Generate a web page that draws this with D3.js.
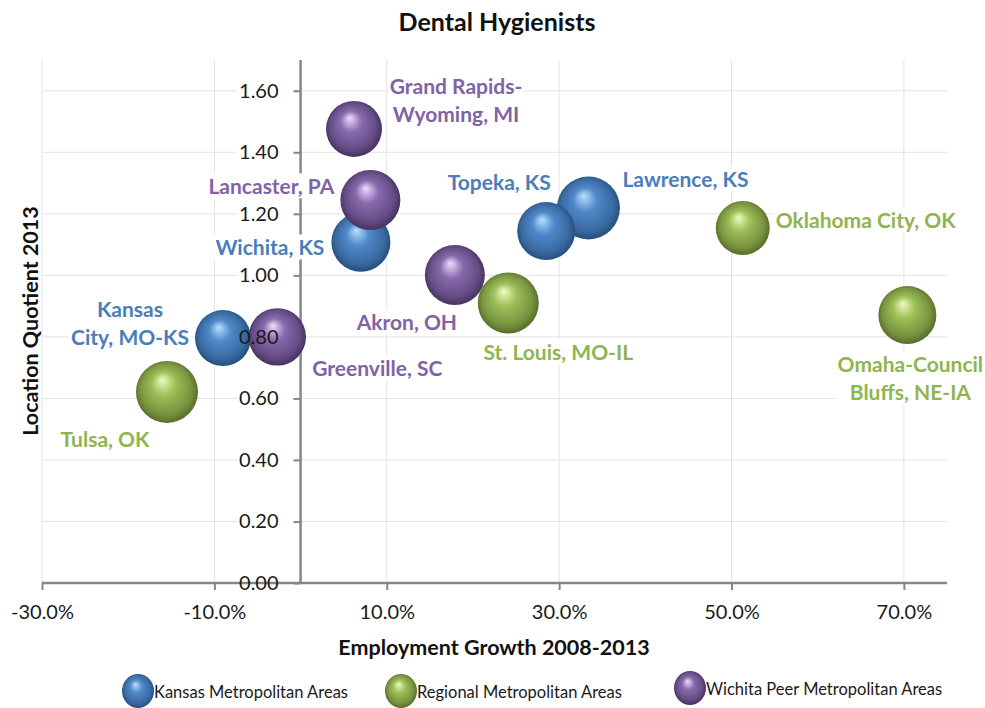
<!DOCTYPE html>
<html>
<head>
<meta charset="utf-8">
<script src="https://cdn.jsdelivr.net/npm/d3@7"></script>
<style>
  html, body { margin: 0; padding: 0; background: #fff; }
  svg { display: block; font-family: Lato, "Open Sans", sans-serif; }
</style>
</head>
<body>
<svg id="chart" width="985" height="708"></svg>
<script>
// ---------- DATA ----------
const chartTitle = "Dental Hygienists";
const xTitle = "Employment Growth 2008-2013";
const yTitle = "Location Quotient 2013";

const seriesNames = ["Kansas Metropolitan Areas", "Regional Metropolitan Areas", "Wichita Peer Metropolitan Areas"];

const kansasAreas  = ["Kansas City, MO-KS", "Wichita, KS", "Topeka, KS", "Lawrence, KS"];
const kansasGrowth = [-0.090, 0.070, 0.285, 0.334];
const kansasLQ     = [0.796, 1.108, 1.144, 1.219];
const kansasSize   = [784, 870, 841, 992];

const regionalAreas  = ["Tulsa, OK", "St. Louis, MO-IL", "Oklahoma City, OK", "Omaha-Council Bluffs, NE-IA"];
const regionalGrowth = [-0.155, 0.241, 0.513, 0.704];
const regionalLQ     = [0.621, 0.910, 1.154, 0.871];
const regionalSize   = [961, 930, 729, 841];

const peerAreas  = ["Greenville, SC", "Grand Rapids-Wyoming, MI", "Lancaster, PA", "Akron, OH"];
const peerGrowth = [-0.027, 0.062, 0.081, 0.179];
const peerLQ     = [0.800, 1.476, 1.245, 1.001];
const peerSize   = [824, 784, 900, 900];

const xTickValues = [-0.3, -0.1, 0.1, 0.3, 0.5, 0.7];
const yTickValues = [0, 0.2, 0.4, 0.6, 0.8, 1.0, 1.2, 1.4, 1.6];

// ---------- LAYOUT (label placement, not data) ----------
const labelLines = {
  "Kansas City, MO-KS": ["Kansas", "City, MO-KS"],
  "Grand Rapids-Wyoming, MI": ["Grand Rapids-", "Wyoming, MI"],
  "Omaha-Council Bluffs, NE-IA": ["Omaha-Council", "Bluffs, NE-IA"]
};
const labelOffset = {
  "Kansas City, MO-KS": [-93, -28],
  "Wichita, KS": [-91, 6],
  "Topeka, KS": [-47, -48],
  "Lawrence, KS": [97, -28],
  "Tulsa, OK": [-62, 48],
  "St. Louis, MO-IL": [50, 50],
  "Oklahoma City, OK": [123, -7],
  "Omaha-Council Bluffs, NE-IA": [3, 50],
  "Greenville, SC": [100, 32],
  "Grand Rapids-Wyoming, MI": [102, -42],
  "Lancaster, PA": [-99, -13],
  "Akron, OH": [-48, 48]
};

const colors = {
  blue:   { text: "#4a7ebb", hi: "#b8e0ff", mid: "#4f89c9", dark: "#1d4470" },
  green:  { text: "#8fb54e", hi: "#eefcc0", mid: "#9dbf57", dark: "#4a5e22" },
  purple: { text: "#7f63a6", hi: "#efdcff", mid: "#876aac", dark: "#3a2852" }
};

const series = [
  { key: "blue",   name: seriesNames[0], areas: kansasAreas,   x: kansasGrowth,   y: kansasLQ,   s: kansasSize },
  { key: "purple", name: seriesNames[2], areas: peerAreas,     x: peerGrowth,     y: peerLQ,     s: peerSize },
  { key: "green",  name: seriesNames[1], areas: regionalAreas, x: regionalGrowth, y: regionalLQ, s: regionalSize }
];

// ---------- CHART ----------
const svg = d3.select("#chart");
const plot = { left: 42, right: 947, top: 60, bottom: 583 };

const x = d3.scaleLinear().domain([-0.3, 0.75]).range([plot.left, plot.right]);
const y = d3.scaleLinear().domain([0, 1.7]).range([plot.bottom, plot.top]);
const allSizes = [].concat(kansasSize, regionalSize, peerSize);
const r = d3.scaleSqrt().domain([0, d3.max(allSizes)]).range([0, 31.5]);

// gradients
const defs = svg.append("defs");
Object.entries(colors).forEach(([k, c]) => {
  const g = defs.append("radialGradient").attr("id", "grad-" + k)
    .attr("cx", "50%").attr("cy", "50%").attr("r", "55%")
    .attr("fx", "42%").attr("fy", "30%");
  g.append("stop").attr("offset", "0%").attr("stop-color", c.hi);
  g.append("stop").attr("offset", "35%").attr("stop-color", c.mid);
  g.append("stop").attr("offset", "75%").attr("stop-color", d3.interpolateRgb(c.mid, c.dark)(0.45));
  g.append("stop").attr("offset", "100%").attr("stop-color", c.dark);
});

// title
svg.append("text").attr("x", 497).attr("y", 31).attr("text-anchor", "middle")
  .attr("font-size", 25).attr("font-weight", "bold").attr("fill", "#111").text(chartTitle);

// gridlines
const grid = svg.append("g");
grid.selectAll(".vg").data(xTickValues).join("line")
  .attr("x1", d => x(d)).attr("x2", d => x(d)).attr("y1", plot.top).attr("y2", plot.bottom)
  .attr("stroke", "#e3e3e3").attr("stroke-width", 1);
grid.selectAll(".hg").data(yTickValues.filter(d => d > 0)).join("line")
  .attr("x1", plot.left).attr("x2", plot.right).attr("y1", d => y(d)).attr("y2", d => y(d))
  .attr("stroke", "#e3e3e3").attr("stroke-width", 1);

// white boxes behind y tick labels (cover gridlines)
const yBoxLayer = svg.append("g");

// axes lines
const xAxisG = svg.append("g").attr("transform", `translate(0,${y(0)})`)
  .call(d3.axisBottom(x).tickValues(xTickValues).tickSizeInner(7).tickSizeOuter(0)
    .tickFormat(d => (d * 100).toFixed(1) + "%").tickPadding(15));
xAxisG.select(".domain").attr("stroke", "#868686").attr("stroke-width", 2.5)
  .attr("d", `M${plot.left},0H${plot.right}`);
xAxisG.selectAll(".tick line").attr("stroke", "#868686").attr("stroke-width", 2);
xAxisG.selectAll(".tick text").attr("font-size", 20).attr("fill", "#1a1a1a").attr("font-family", "Lato");

const yAxisG = svg.append("g").attr("transform", `translate(${x(0)},0)`)
  .call(d3.axisLeft(y).tickValues(yTickValues).tickSizeInner(7).tickSizeOuter(0).tickFormat(""));
yAxisG.select(".domain").attr("stroke", "#868686").attr("stroke-width", 2.5)
  .attr("d", `M0,${plot.top}V${plot.bottom}`);
yAxisG.selectAll(".tick line").attr("stroke", "#868686").attr("stroke-width", 2);

// bubbles
const bubbleLayer = svg.append("g");
series.forEach(sr => {
  const pts = sr.areas.map((a, i) => ({ area: a, x: sr.x[i], y: sr.y[i], s: sr.s[i], key: sr.key }));
  pts.sort((a, b) => b.s - a.s);
  bubbleLayer.append("g").selectAll("circle").data(pts).join("circle")
    .attr("cx", d => x(d.x)).attr("cy", d => y(d.y)).attr("r", d => r(d.s))
    .attr("fill", d => `url(#grad-${d.key})`);
});

// data labels with white backgrounds
const labelLayer = svg.append("g");
series.forEach(sr => {
  sr.areas.forEach((a, i) => {
    const cx = x(sr.x[i]), cy = y(sr.y[i]);
    const off = labelOffset[a];
    const lines = labelLines[a] || [a];
    const g = labelLayer.append("g");
    const t = g.append("text").attr("text-anchor", "middle")
      .attr("font-size", 21).attr("font-weight", "bold").attr("fill", colors[sr.key].text);
    lines.forEach((ln, j) => {
      t.append("tspan").attr("x", cx + off[0]).attr("y", cy + off[1] + j * 28)
        .attr("dy", "0.35em").text(ln);
    });
    const bb = t.node().getBBox();
    g.insert("rect", "text").attr("x", bb.x - 2).attr("y", bb.y)
      .attr("width", bb.width + 4).attr("height", bb.height).attr("fill", "#fff");
  });
});

// y tick labels (on top of bubbles)
const yLabG = svg.append("g").attr("transform", `translate(${x(0)},0)`)
  .call(d3.axisLeft(y).tickValues(yTickValues).tickSize(0).tickPadding(22).tickFormat(d3.format(".2f")));
yLabG.select(".domain").remove();
yLabG.selectAll(".tick text").attr("font-size", 20).attr("fill", "#1a1a1a").attr("font-family", "Lato");
yLabG.selectAll(".tick").each(function(d) {
  if (d === 0) return;
  const bb = this.querySelector("text").getBBox();
  yBoxLayer.append("rect")
    .attr("x", x(0) + bb.x - 2).attr("y", y(d) - 11)
    .attr("width", -bb.x - 7 + 2).attr("height", 22).attr("fill", "#fff");
});

// axis titles
svg.append("text").attr("x", 494).attr("y", 655).attr("text-anchor", "middle")
  .attr("font-size", 21.5).attr("font-weight", "bold").attr("fill", "#111").text(xTitle);
svg.append("text").attr("transform", "translate(38,321) rotate(-90)").attr("text-anchor", "middle")
  .attr("font-size", 21.5).attr("font-weight", "bold").attr("fill", "#111").text(yTitle);

// legend
const legendItems = [
  { key: "blue",   name: seriesNames[0], cx: 138, cy: 691 },
  { key: "green",  name: seriesNames[1], cx: 401, cy: 691 },
  { key: "purple", name: seriesNames[2], cx: 690, cy: 688 }
];
const lg = svg.append("g");
legendItems.forEach(it => {
  lg.append("ellipse").attr("cx", it.cx).attr("cy", it.cy).attr("rx", 16).attr("ry", 17)
    .attr("fill", `url(#grad-${it.key})`);
  lg.append("text").attr("x", it.cx + 16).attr("y", it.cy + 1).attr("dy", "0.35em")
    .attr("font-size", 16.5).attr("fill", "#1a1a1a").text(it.name);
});
</script>
</body>
</html>
